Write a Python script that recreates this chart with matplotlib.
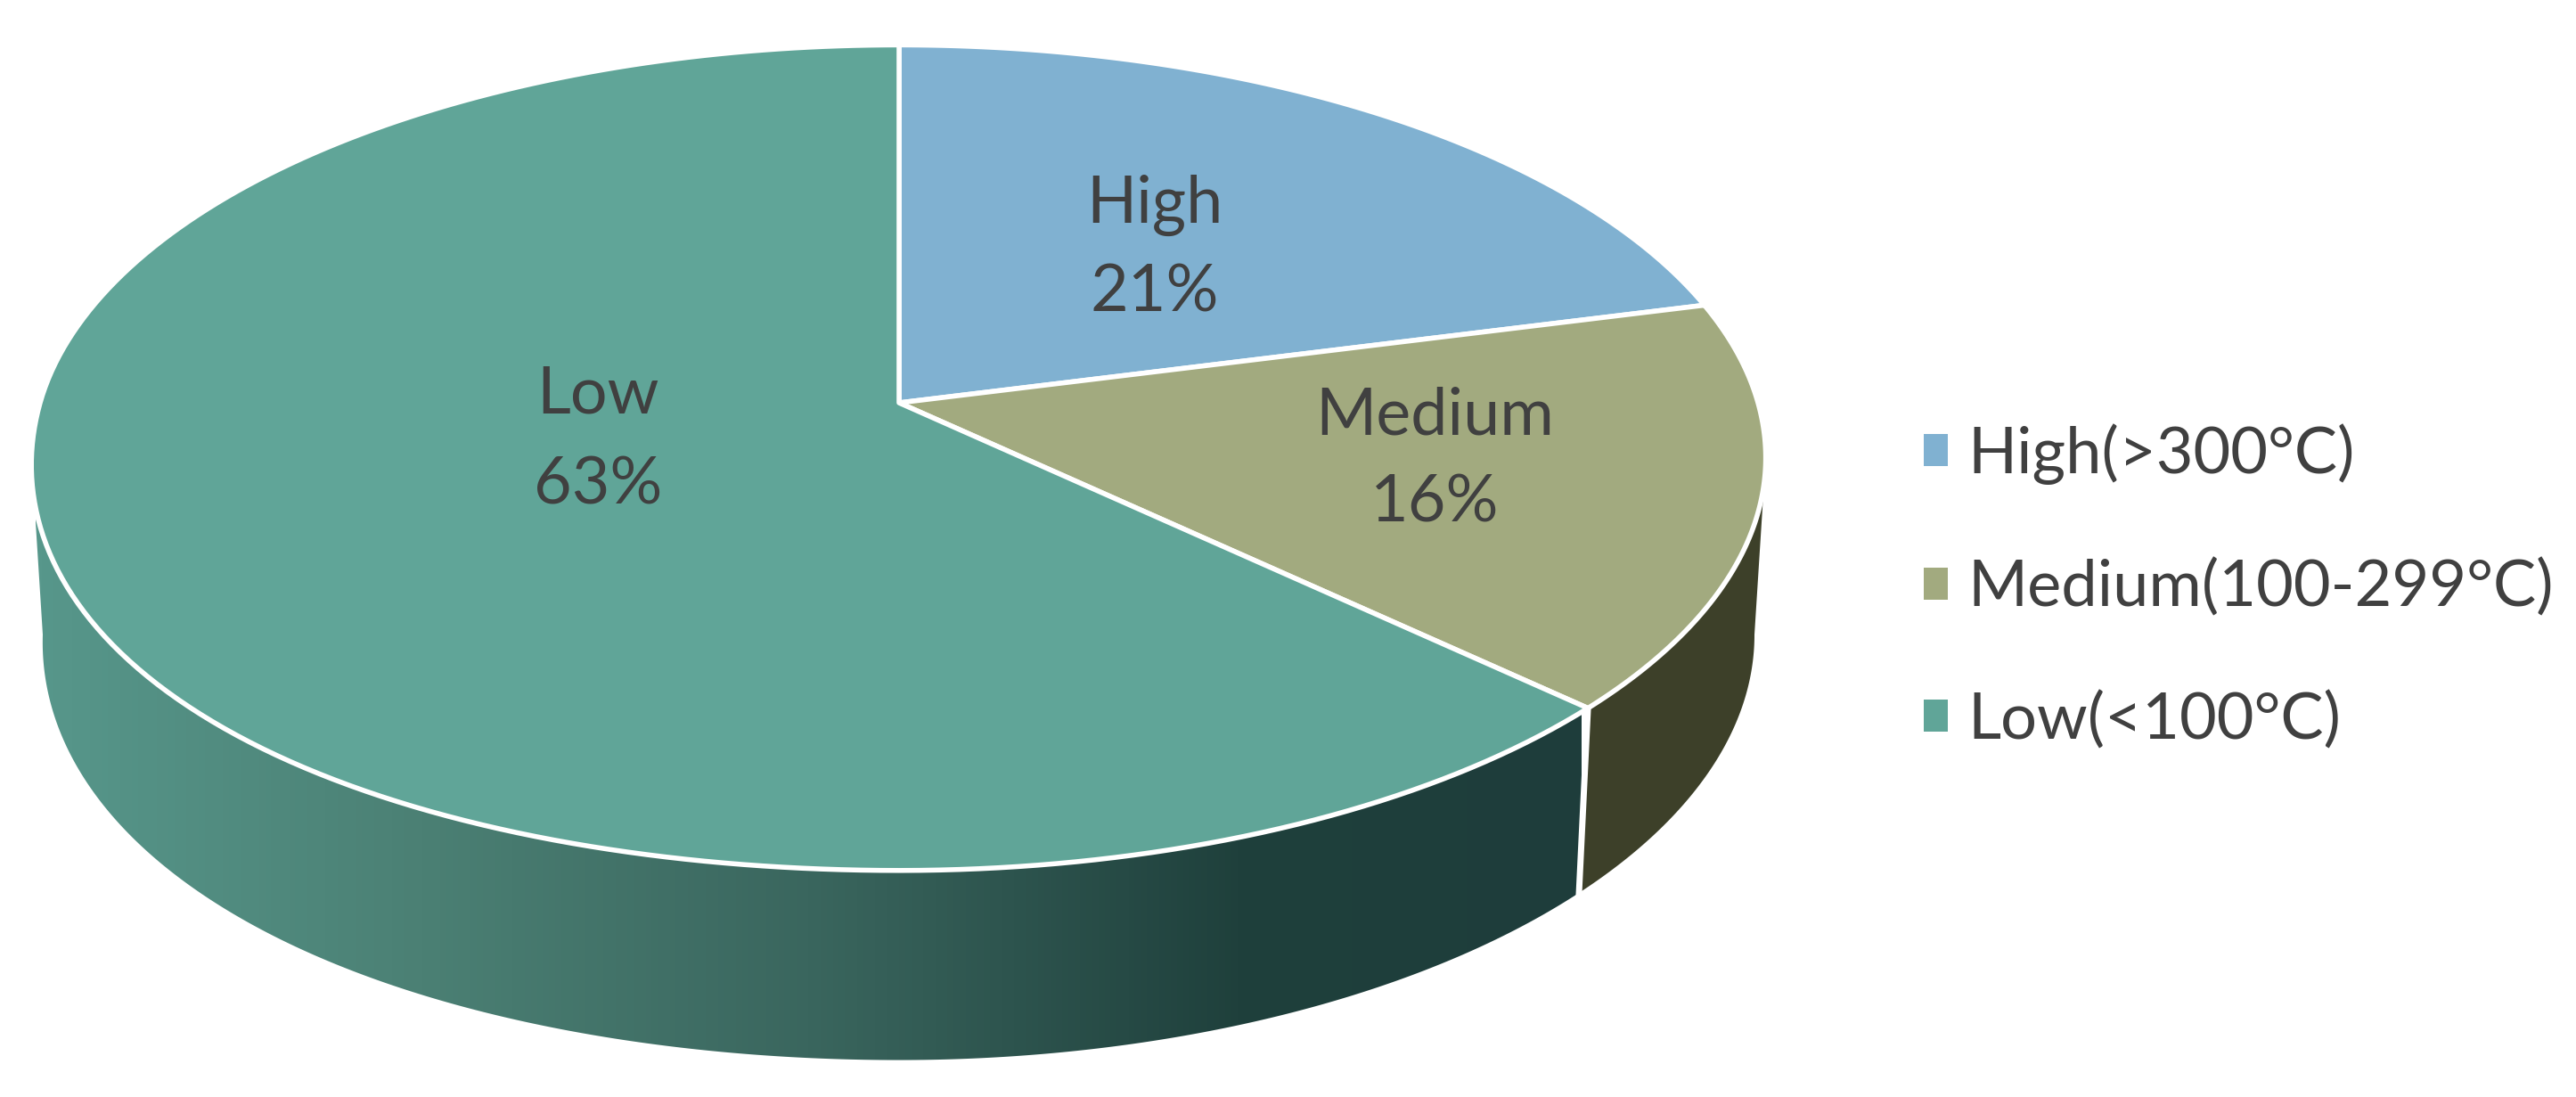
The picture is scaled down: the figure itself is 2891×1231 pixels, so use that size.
import numpy as np
import matplotlib
matplotlib.use('Agg')
import matplotlib.pyplot as plt
from matplotlib.colors import LinearSegmentedColormap
from matplotlib.patches import Patch, Polygon

# Values and labels
categories = ['High', 'Medium', 'Low']
legend_labels = ['High(>300°C)', 'Medium(100-299°C)', 'Low(<100°C)']
shares = [21, 16, 63]
top_colors = ['#80B1D1', '#A2AA7F', '#60A598']

plt.rcParams['font.family'] = ['Lato', 'DejaVu Sans']
TEXT = '#404040'
FONT = 53

# Perspective of the pie, in image pixels
CX, APEX_Y = 1009, 452
AX_W, AX_H, TILT = 964, 455, 0.133
SIDE_SX, SIDE_SY, SIDE_Y = 0.987, 1.03, 649


def top_xy(theta):
    # theta is clockwise from 12 o'clock, radians
    u, v = np.sin(theta), np.cos(theta)
    # the lower left of the rim bulges a little in the picture
    bulge = 1 + 0.015 * np.sin(2 * theta) ** 2 * ((theta > np.pi) & (theta < 1.5 * np.pi))
    u, v = u * bulge, v * bulge
    d = 1 + TILT * v
    return CX + AX_W * u / d, APEX_Y - AX_H * v / d


def low_xy(theta):
    x, y = top_xy(theta)
    return CX + (x - CX) * SIDE_SX, SIDE_Y + (y - APEX_Y) * SIDE_SY


fig = plt.figure(figsize=(28.91, 12.31), dpi=100, facecolor='white')
ax = fig.add_axes([0, 0, 1, 1])
ax.axis('off')

edges = np.radians(np.cumsum([0] + shares) * 3.6)

# Side walls: only the front half of the rim shows (right extreme to left extreme)
front_start = np.radians(90 + 7.6)
front_end = np.radians(270 - 7.6)
split = edges[2]

th = np.linspace(front_start, split, 80)
xt, yt = top_xy(th)
xl, yl = low_xy(th)
ax.add_patch(Polygon(np.r_[np.c_[xt, yt], np.c_[xl, yl][::-1]], fc='#3D4029', ec='none', zorder=1))

th = np.linspace(split, front_end, 300)
xt, yt = top_xy(th)
xl, yl = low_xy(th)
low_wall = Polygon(np.r_[np.c_[xt, yt], np.c_[xl, yl][::-1]], fc='none', ec='none')
ax.add_patch(low_wall)
wall_cmap = LinearSegmentedColormap.from_list('wall', [(0, '#57978B'), (0.25, '#4B8074'), (0.5, '#3A665E'),
                                                       (0.78, '#1F403C'), (1, '#1E3D3B')])
img = ax.imshow(np.linspace(0, 1, 512)[None, :], extent=(40, 1775, 1231, 0), cmap=wall_cmap, vmin=0, vmax=1,
                aspect='auto', zorder=1)
img.set_clip_path(low_wall)
ax.set_xlim(0, 2891)
ax.set_ylim(1231, 0)

# White line down the wall where the two front slices meet
xa, ya = top_xy(split)
xb, yb = low_xy(split)
ax.plot([xa, xb], [ya, yb], color='white', lw=5, zorder=2)

# Top face
for start, stop, col in zip(edges[:-1], edges[1:], top_colors):
    th = np.linspace(start, stop, 200)
    x, y = top_xy(th)
    ax.add_patch(Polygon(np.r_[[[CX, APEX_Y]], np.c_[x, y]], closed=True, fc=col, ec='white', lw=4,
                         joinstyle='round', zorder=3))

# Labels on the slices
label_x = [1296, 1610, 671]
name_y = [250, 487, 464]
pct_y = [349, 586, 565]
for name, share, x, y0, y1 in zip(categories, shares, label_x, name_y, pct_y):
    ax.text(x, y0, name, ha='center', va='baseline', fontsize=FONT, color=TEXT, zorder=4)
    ax.text(x, y1, f'{share}%', ha='center', va='baseline', fontsize=FONT, color=TEXT, zorder=4)

# Legend
handles = [Patch(fc=c, ec='none') for c in top_colors]
ax.legend(handles, legend_labels, loc='upper left', bbox_to_anchor=(2159, 475), bbox_transform=ax.transData,
          frameon=False, fontsize=52, labelcolor=TEXT, borderpad=0, borderaxespad=0,
          handlelength=0.38, handleheight=0.39, handletextpad=0.3, labelspacing=1.14)

fig.savefig('out.png', dpi=100, facecolor='white')
